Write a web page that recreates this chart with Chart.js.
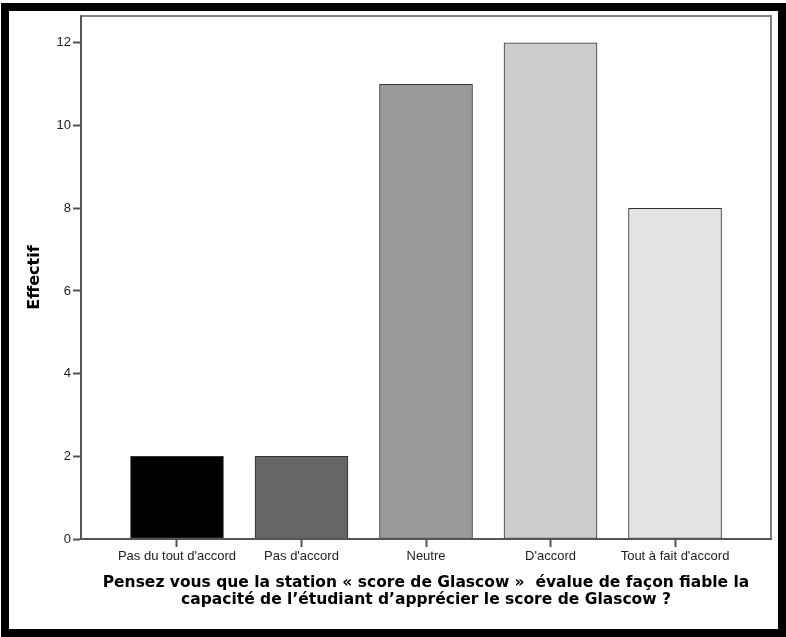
<!DOCTYPE html>
<html>
<head>
<meta charset="utf-8">
<script src="https://cdn.jsdelivr.net/npm/chart.js@4/dist/chart.umd.min.js"></script>
<style>
  html, body { margin: 0; padding: 0; background: #fff; }
  #wrap { position: relative; width: 786px; height: 637px; overflow: hidden; background: #fff; }
  #frame { position: absolute; left: 1px; top: 3px; width: 785px; height: 634px; box-sizing: border-box; border: 8px solid #000; }
  #c { position: absolute; left: 0; top: 0; }
</style>
</head>
<body>
<div id="wrap">
  <div id="frame"></div>
  <canvas id="c" width="786" height="637"></canvas>
</div>
<script>
const categories = ["Pas du tout d'accord", "Pas d'accord", "Neutre", "D'accord", "Tout à fait d'accord"];
const counts = [2, 2, 11, 12, 8];
const barColors = ["#000000", "#666666", "#999999", "#cccccc", "#e3e3e3"];
const yTicks = [0, 2, 4, 6, 8, 10, 12];
const yTitle = "Effectif";
const xTitle = ["Pensez vous que la station « score de Glascow »  évalue de façon fiable la", "capacité de l’étudiant d’apprécier le score de Glascow ?"];

const FONT = "'Liberation Sans', Arial, Helvetica, sans-serif";
const TFONT = "'DejaVu Sans', 'Liberation Sans', Arial, sans-serif";

const framePlugin = {
  id: 'frame',
  afterDraw(chart) {
    const a = chart.chartArea;
    const ctx = chart.ctx;
    ctx.save();
    ctx.strokeStyle = '#808080';
    ctx.lineWidth = 2;
    ctx.beginPath();
    ctx.moveTo(a.left, a.top);
    ctx.lineTo(a.right, a.top);
    ctx.lineTo(a.right, a.bottom);
    ctx.stroke();
    ctx.strokeStyle = '#555555';
    ctx.beginPath();
    ctx.moveTo(a.left, a.top);
    ctx.lineTo(a.left, a.bottom);
    ctx.lineTo(a.right, a.bottom);
    ctx.stroke();
    ctx.restore();
  }
};

new Chart(document.getElementById('c'), {
  type: 'bar',
  data: {
    datasets: [{
      data: counts.map((v, i) => ({ x: i, y: v })),
      backgroundColor: barColors,
      borderColor: '#333333',
      borderWidth: 1,
      borderSkipped: false,
      barThickness: 93
    }]
  },
  options: {
    responsive: false,
    animation: false,
    devicePixelRatio: 1,
    layout: { padding: { top: 16, right: 15, left: 0, bottom: 0 } },
    plugins: { legend: { display: false }, tooltip: { enabled: false } },
    scales: {
      x: {
        type: 'linear',
        offset: false,
        min: -0.771,
        max: categories.length - 1 + 0.771,
        afterBuildTicks(scale) { scale.ticks = categories.map((c, i) => ({ value: i })); },
        afterFit(scale) { scale.height = 98; },
        grid: { offset: false, drawOnChartArea: false, drawTicks: true, tickLength: 8, tickColor: '#555555', tickWidth: 2 },
        border: { display: true, color: '#555555', width: 2 },
        ticks: {
          autoSkip: false, maxRotation: 0,
          padding: 2,
          color: '#222222',
          font: { family: FONT, size: 13 },
          callback: (v) => categories[v]
        },
        title: {
          display: true,
          text: xTitle,
          color: '#000000',
          font: { family: TFONT, size: 15.5, weight: 'bold', lineHeight: 1.0645 },
          padding: { top: 0, bottom: 29 }
        }
      },
      y: {
        min: 0,
        max: 12.65,
        afterBuildTicks(scale) { scale.ticks = yTicks.map(v => ({ value: v })); },
        afterFit(scale) { scale.width = 81; },
        grid: { drawOnChartArea: false, drawTicks: true, tickLength: 8, tickColor: '#555555', tickWidth: 2 },
        border: { display: true, color: '#555555', width: 2 },
        ticks: {
          padding: 2,
          color: '#222222',
          font: { family: FONT, size: 13 }
        },
        title: {
          display: true,
          text: yTitle,
          color: '#000000',
          font: { family: TFONT, size: 16, weight: 'bold' },
          padding: { top: 25, bottom: 0 }
        }
      }
    }
  },
  plugins: [framePlugin]
});
</script>
</body>
</html>
